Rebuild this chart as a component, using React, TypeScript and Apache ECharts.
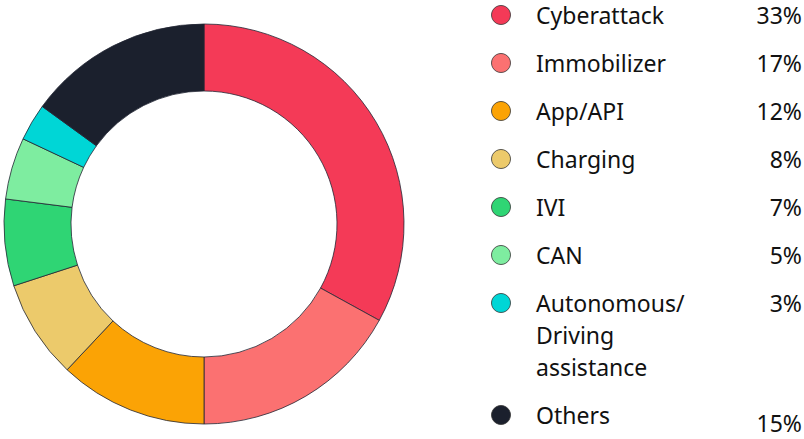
import React, { useEffect, useRef } from "react";
import * as echarts from "echarts";

const categories = ["Cyberattack", "Immobilizer", "App/API", "Charging", "IVI", "CAN", "Autonomous/\nDriving\nassistance", "Others"];
const values = [33, 17, 12, 8, 7, 5, 3, 15];
const colors = ["#f43a57", "#fb7171", "#fba305", "#ecca6b", "#2fd574", "#7eeda0", "#00d6d6", "#1b202d"];

export default function App() {
  const ref = useRef<HTMLDivElement>(null);
  useEffect(() => {
    document.body.style.margin = "0";
    const chart = echarts.init(ref.current!, null, { renderer: "svg" });
    const font = '23px "Noto Sans"';
    const rowYs = [15, 63, 111, 159, 207, 255, 303, 415];
    const graphic: any[] = [];
    categories.forEach((c, i) => {
      const y = rowYs[i];
      graphic.push({
        type: "circle",
        shape: { cx: 501, cy: y, r: 9.5 },
        style: { fill: colors[i], stroke: "#333", lineWidth: 0.8 },
      });
      graphic.push({
        type: "text",
        x: 536,
        y: y - 16,
        style: {
          text: c,
          font,
          fill: "#111",
          verticalAlign: "top",
          lineHeight: 32,
        },
      });
      const py = i === categories.length - 1 ? y + 8 : y;
      graphic.push({
        type: "text",
        x: 802,
        y: py,
        style: {
          text: values[i] + "%",
          font,
          fill: "#111",
          align: "right",
          verticalAlign: "middle",
          lineHeight: 24,
        },
      });
    });
    chart.setOption({
      animation: false,
      series: [
        {
          type: "pie",
          center: [204, 224],
          radius: [133, 200],
          startAngle: 90,
          clockwise: true,
          label: { show: false },
          labelLine: { show: false },
          emphasis: { disabled: true },
          itemStyle: { borderColor: "#222633", borderWidth: 0.8 },
          data: categories.map((c, i) => ({ name: c, value: values[i], itemStyle: { color: colors[i] } })),
        },
      ],
      graphic,
    });
    return () => chart.dispose();
  }, []);
  return <div ref={ref} style={{ width: 804, height: 439 }} />;
}
